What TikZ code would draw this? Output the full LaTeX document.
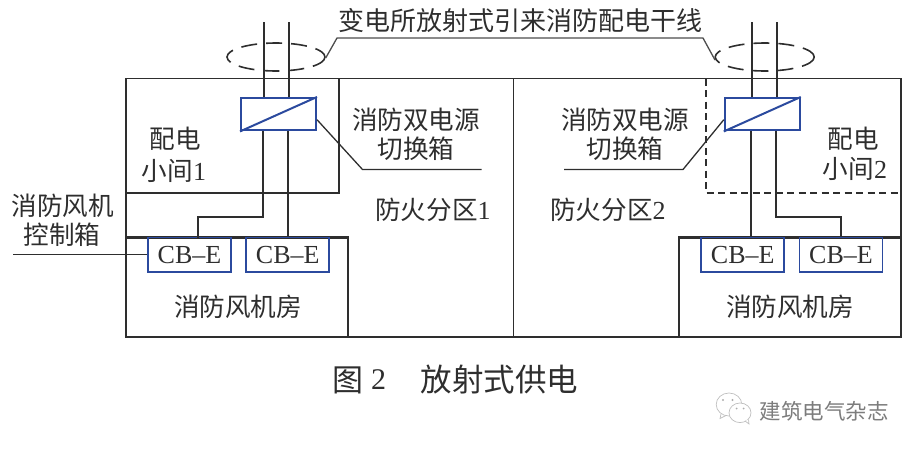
\documentclass[tikz,border=0pt]{standalone}
\usepackage{fontspec}
\setmainfont{Liberation Serif}
\newfontfamily\cjk{Noto Sans CJK SC}
\definecolor{ink}{HTML}{2E2E2E}
\definecolor{boxblue}{HTML}{2B4A9E}
\definecolor{wm}{HTML}{8A8A8A}
\tikzset{
  wire/.style={draw=ink,line width=2pt},
  thin wire/.style={draw=ink,line width=1.3pt},
  wall/.style={draw=ink,line width=1.8pt},
  heavy wall/.style={draw=ink,line width=2.2pt},
  dash wall/.style={draw=ink,line width=1.3pt,dash pattern=on 7pt off 4.5pt},
  bundle/.style={draw=ink,line width=1.6pt,dash pattern=on 16pt off 9pt},
  lbl/.style={inner sep=0pt,align=center,text=ink,font=\fontsize{25.6}{29}\selectfont\cjk},
  cbbox/.style={draw=boxblue,line width=1.8pt,minimum width=83pt,minimum height=34.5pt,inner sep=0pt,text=ink,font=\fontsize{26}{26}\selectfont},
  swbox/.style={draw=boxblue,line width=2pt,minimum width=75pt,minimum height=32.5pt,inner sep=0pt},
}
\begin{document}
\begin{tikzpicture}[x=1pt,y=-1pt]
\useasboundingbox (0,0) rectangle (919,450);
% zones
\draw[wall] (126,78.5) rectangle (901,337);
\coordinate (divT) at (513.5,78.5);
\coordinate (divB) at (513.5,337);
\draw[thin wire] (divT) -- (divB);
% room 1
\coordinate (r1a) at (339,78.5);
\coordinate (r1b) at (339,193);
\coordinate (r1c) at (126,193);
\draw[wall] (r1a) -- (r1b) -- (r1c);
% room 2
\coordinate (r2a) at (706,78.5);
\coordinate (r2b) at (706,193);
\coordinate (r2c) at (901,193);
\draw[dash wall] (r2a) -- (r2b) -- (r2c);
% fan rooms
\draw[heavy wall] (126,237.5) rectangle (348,337);
\draw[heavy wall] (679,237.5) rectangle (901,337);
% bundles
\draw[bundle] (276,57) ellipse (49 and 14);
\draw[bundle] (764.7,57) ellipse (49.5 and 14);
% boxes
\node[swbox] (sw1) at (278.5,114.2) {};
\node[swbox] (sw2) at (762.3,114.2) {};
\node[cbbox] (cb1) at (189.5,254.7) {CB–E};
\node[cbbox] (cb2) at (287.7,254.7) {CB–E};
\node[cbbox] (cb3) at (742.7,254.7) {CB–E};
\node[cbbox] (cb4) at (841,254.7) {CB–E};
\draw[boxblue,line width=2pt] (sw1.south west) -- (sw1.north east);
\draw[boxblue,line width=2pt] (sw2.south west) -- (sw2.north east);
% incoming feeders
\coordinate (f1) at (263.7,22); \coordinate (f2) at (288.7,22);
\coordinate (f3) at (751.7,22); \coordinate (f4) at (776.7,22);
\draw[wire] (f1) -- (f1 |- sw1.north);
\draw[wire] (f2) -- (f2 |- sw1.north);
\draw[wire] (f3) -- (f3 |- sw2.north);
\draw[wire] (f4) -- (f4 |- sw2.north);
% outgoing
\coordinate (o1) at (262.5,216.7);
\coordinate (o2) at (287.7,216.7);
\coordinate (o3) at (750.7,216.7);
\coordinate (o4) at (776,216.7);
\draw[wire] (o1 |- sw1.south) -- (o1) -- (197.5,216.7) -- (197.5,237.5);
\draw[wire] (o2 |- sw1.south) -- (o2 |- cb2.north);
\draw[wire] (o3 |- sw2.south) -- (o3 |- cb3.north);
\draw[wire] (o4 |- sw2.south) -- (o4) -- (cb4.north |- o4) -- (cb4.north);
% leaders
\coordinate (lb1) at (325.7,58); \coordinate (lb2) at (337,38);
\coordinate (lb3) at (703,38);   \coordinate (lb4) at (715,60);
\draw[thin wire,draw=ink!85] (lb1) -- (lb2) -- (lb3) -- (lb4);
\coordinate (ls1) at (362.5,169.5); \coordinate (ls2) at (481.5,169.5);
\coordinate (ls3) at (683,169.5);   \coordinate (ls4) at (564,169.5);
\draw[thin wire] ([yshift=-5.5pt]sw1.east) -- (ls1) -- (ls2);
\draw[thin wire] ([yshift=-5.5pt]sw2.west) -- (ls3) -- (ls4);
\coordinate (ctl) at (13,254.5);
\draw[thin wire] (ctl) -- (cb1.west |- ctl);
% labels
\node[lbl,font=\fontsize{26}{26}\selectfont\cjk] (title) at (520,21) {变电所放射式引来消防配电干线};
\node[lbl] (a1) at (416,120) {消防双电源};
\node[lbl] (a2) at (416,149) {切换箱};
\node[lbl] (a3) at (625,120) {消防双电源};
\node[lbl] (a4) at (625,149) {切换箱};
\node[lbl] (b1) at (175,139) {配电};
\node[lbl] (b2) at (174,171) {小间{\normalfont\fontsize{26}{29}\selectfont 1}};
\node[lbl] (b3) at (853,139) {配电};
\node[lbl] (b4) at (855,169) {小间{\normalfont\fontsize{26}{29}\selectfont 2}};
\node[lbl] (c1) at (433,210) {防火分区{\normalfont\fontsize{26}{29}\selectfont 1}};
\node[lbl] (c2) at (608,210) {防火分区{\normalfont\fontsize{26}{29}\selectfont 2}};
\node[lbl] (d1) at (63,206) {消防风机};
\node[lbl] (d2) at (62,235) {控制箱};
\node[lbl] (e1) at (238,307) {消防风机房};
\node[lbl] (e2) at (790,307) {消防风机房};
\node[lbl,anchor=west,font=\fontsize{31}{31}\selectfont\cjk] (cap1) at (332,380) {图};
\node[lbl,anchor=west,font=\fontsize{30}{30}\selectfont\rmfamily] (cap2) at (371,380) {2};
\node[lbl,anchor=west,font=\fontsize{31.5}{31.5}\selectfont\cjk] (cap3) at (420.5,380) {放射式供电};
% watermark
\draw[wm!55,line width=.7pt] (729,404.5) ellipse (12.8 and 11.5);
\draw[wm!55,line width=.7pt] (721,414) -- (720,418.5) -- (726,415.5);
\draw[wm!55,line width=.7pt,fill=white] (740,412.8) ellipse (11 and 9.8);
\draw[wm!55,line width=.7pt,fill=white] (745,421) -- (749,424) -- (748.5,419.5);
\fill[wm!70] (723,400) circle (1.1) (732.5,400) circle (1.1) (736.5,408.5) circle (1) (743.5,408.5) circle (1);
\node[lbl,text=wm!90!black,font=\fontsize{21.5}{21.5}\selectfont\cjk] (wmk) at (824,411) {建筑电气杂志};
\end{tikzpicture}
\end{document}
